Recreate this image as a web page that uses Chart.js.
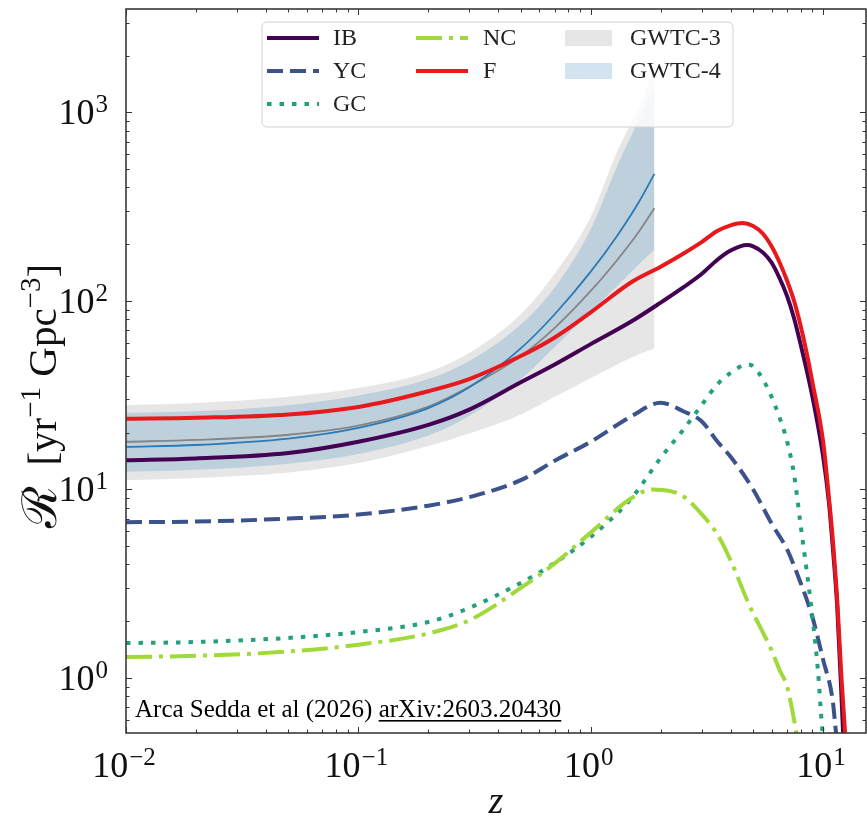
<!DOCTYPE html>
<html>
<head>
<meta charset="utf-8">
<script src="https://cdn.jsdelivr.net/npm/chart.js@4.4.1/dist/chart.umd.min.js"></script>
<style>
  body { margin: 0; background: #fff; }
  #wrap { width: 867px; height: 820px; }
</style>
</head>
<body>
<div id="wrap"><canvas id="rateChart" width="867" height="820"></canvas></div>
<script>
// Observational bands (GWTC-3 / GWTC-4), shown up to z ~ 1.9
const zObs = [0.01, 0.02, 0.05, 0.1, 0.2, 0.3, 0.5, 0.7, 1.0, 1.3, 1.6, 1.88];
const gwtc3Mid = [17.9, 18.3, 19.5, 21.8, 27.5, 35.0, 51, 72, 113, 165, 230, 310];
const gwtc3Lo = [11.2, 11.5, 12.3, 13.8, 17.0, 19.8, 25, 31, 39, 46, 52, 56];
const gwtc3Hi = [28, 28.7, 31, 34.5, 42, 53, 85, 140, 280, 620, 1050, 1700];
const gwtc4Mid = [16.8, 17.2, 18.6, 21.2, 27.0, 34.8, 56, 85, 143, 222, 330, 472];
const gwtc4Lo = [12.4, 12.7, 13.7, 15.4, 19.3, 24.5, 38.5, 57, 88, 120, 155, 187];
const gwtc4Hi = [25.5, 26, 28, 31.5, 38.5, 48, 75, 118, 240, 520, 900, 1400];

// Model channels
const zIB = [0.01, 0.02, 0.05, 0.1, 0.2, 0.3, 0.5, 0.7, 1, 1.5, 2, 2.5, 3, 3.5, 4, 4.7, 5, 5.5, 6, 6.5, 7, 7.5, 8, 9, 10, 10.6, 11, 11.5, 12, 12.3];
const rIB = [14.3, 14.6, 15.6, 17.9, 22, 26.5, 37, 46, 59, 78, 98, 118, 139, 165, 185, 198, 195, 181, 160, 132, 106, 81, 59, 31, 15, 8.5, 5, 2.4, 0.8, 0.4];

const zYC = [0.01, 0.02, 0.05, 0.1, 0.2, 0.3, 0.5, 0.7, 1, 1.5, 2, 2.5, 3, 3.5, 4, 5, 6, 7, 8, 9, 10, 11, 11.3, 11.6];
const rYC = [6.7, 6.75, 7.0, 7.35, 8.2, 9.1, 11.2, 14.2, 17.9, 24.5, 28.8, 26, 23, 18, 14.9, 10, 6.6, 4.8, 3.2, 2.1, 1.25, 0.76, 0.55, 0.4];

const zGC = [0.01, 0.02, 0.05, 0.1, 0.2, 0.3, 0.5, 0.7, 1, 1.5, 2, 2.5, 3, 3.5, 4, 4.7, 5, 5.6, 6, 6.5, 7, 7.5, 8, 8.5, 9, 9.5, 9.9, 10.2];
const rGC = [1.53, 1.55, 1.63, 1.75, 1.98, 2.35, 3.19, 4.07, 5.6, 9.0, 14.7, 20.7, 28, 36, 41.5, 46, 45, 37, 31, 24, 18, 12, 6.5, 3.7, 2.1, 1.1, 0.55, 0.4];

const zNC = [0.01, 0.02, 0.05, 0.1, 0.2, 0.3, 0.5, 0.7, 1, 1.5, 1.85, 2.2, 2.5, 3, 3.5, 4, 4.7, 5, 5.5, 6, 6.5, 7, 7.5, 7.8];
const rNC = [1.29, 1.31, 1.38, 1.5, 1.72, 2.02, 3.0, 4.05, 5.9, 9.0, 10.0, 9.8, 9.2, 7.4, 5.8, 4.2, 2.6, 2.2, 1.75, 1.4, 1.1, 0.9, 0.6, 0.45];

const zF = [0.01, 0.02, 0.05, 0.1, 0.2, 0.3, 0.5, 0.7, 1, 1.5, 2, 2.5, 3, 3.5, 4, 4.5, 5, 5.5, 6, 6.5, 7, 7.5, 8, 8.5, 9, 10, 10.6, 11, 11.5, 12, 12.6];
const rF = [23.7, 24, 25, 27.4, 33.2, 38.5, 51, 64, 87, 126, 152, 178, 205, 235, 252, 259, 250, 228, 195, 160, 128, 100, 74, 53, 37, 18, 9, 5.5, 2.6, 1.0, 0.4];

// Axis ranges and decade labels
const xRange = [0.01, 15.3];
const yRange = [0.51, 3540];
const xDecades = [-2, -1, 0, 1];
const yDecades = [0, 1, 2, 3];

const serif = '"Liberation Serif", "DejaVu Serif", serif';

function pts(zs, rs) {
    return zs.map((z, i) => ({ x: z, y: rs[i] }));
}

const datasets = [
    // 0,1: GWTC-3 band
    { label: '_g3lo', data: pts(zObs, gwtc3Lo), borderWidth: 0, fill: false, order: 20 },
    { label: 'GWTC-3', data: pts(zObs, gwtc3Hi), borderWidth: 0, fill: 0,
      backgroundColor: 'rgba(128,128,128,0.2)', order: 20 },
    // 2,3: GWTC-4 band
    { label: '_g4lo', data: pts(zObs, gwtc4Lo), borderWidth: 0, fill: false, order: 19 },
    { label: 'GWTC-4', data: pts(zObs, gwtc4Hi), borderWidth: 0, fill: 2,
      backgroundColor: 'rgba(31,119,180,0.2)', order: 19 },
    // medians
    { label: '_g3mid', data: pts(zObs, gwtc3Mid), borderColor: '#858585', borderWidth: 1.8, order: 18 },
    { label: '_g4mid', data: pts(zObs, gwtc4Mid), borderColor: '#2a7ab8', borderWidth: 1.8, order: 17 },
    // models
    { label: 'IB', data: pts(zIB, rIB), borderColor: '#440154', borderWidth: 4, order: 9 },
    { label: 'YC', data: pts(zYC, rYC), borderColor: '#3b528b', borderWidth: 4,
      borderDash: [16, 7], borderCapStyle: 'butt', order: 8 },
    { label: 'GC', data: pts(zGC, rGC), borderColor: '#22a07f', borderWidth: 4,
      borderDash: [4.5, 8], borderCapStyle: 'butt', order: 7 },
    { label: 'NC', data: pts(zNC, rNC), borderColor: '#a0d93a', borderWidth: 4,
      borderDash: [26, 7, 4, 7], borderCapStyle: 'butt', order: 6 },
    { label: 'F', data: pts(zF, rF), borderColor: '#e8191c', borderWidth: 4, order: 5 }
];

// Legend columns as matplotlib lays them out (ncol = 3)
const legendCols = [['IB', 'YC', 'GC'], ['NC', 'F'], ['GWTC-3', 'GWTC-4']];

function powLabel(ctx, exp, x, y, align) {
    const base = '10';
    const sup = exp < 0 ? '\u2212' + (-exp) : String(exp);
    ctx.font = '36px ' + serif;
    const wb = ctx.measureText(base).width;
    ctx.font = '25px ' + serif;
    const ws = ctx.measureText(sup).width;
    const x0 = align === 'right' ? x - wb - ws - 1 : x - (wb + ws + 1) / 2;
    ctx.textAlign = 'left';
    ctx.textBaseline = 'alphabetic';
    ctx.font = '36px ' + serif;
    ctx.fillText(base, x0, y);
    ctx.font = '25px ' + serif;
    ctx.fillText(sup, x0 + wb + 1, y - 12);
}

function drawRich(ctx, pieces) {
    // pieces: [text, font, raise]
    let total = 0;
    pieces.forEach(p => { ctx.font = p[1]; p.w = ctx.measureText(p[0]).width; total += p.w; });
    let cx = -total / 2;
    pieces.forEach(p => {
        ctx.font = p[1];
        ctx.fillText(p[0], cx, -p[2]);
        cx += p.w;
    });
}

const framePlugin = {
    id: 'frame',
    afterDraw(chart) {
        const { ctx, chartArea: a, scales: { x, y } } = chart;
        ctx.save();
        ctx.fillStyle = '#111';

        // tick marks, inside, on all four sides
        ctx.strokeStyle = '#333';
        ctx.lineWidth = 1;
        const seg = (x1, y1, x2, y2) => { ctx.beginPath(); ctx.moveTo(x1, y1); ctx.lineTo(x2, y2); ctx.stroke(); };
        for (let e = -3; e <= 2; e++) {
            for (let m = 1; m < 10; m++) {
                const v = m * Math.pow(10, e);
                const len = m === 1 ? 6 : 3.5;
                if (v >= xRange[0] * 0.999 && v <= xRange[1]) {
                    const px = Math.round(x.getPixelForValue(v)) + 0.5;
                    seg(px, a.bottom, px, a.bottom - len);
                    seg(px, a.top, px, a.top + len);
                }
            }
        }
        for (let e = -1; e <= 4; e++) {
            for (let m = 1; m < 10; m++) {
                const v = m * Math.pow(10, e);
                const len = m === 1 ? 6 : 3.5;
                if (v >= yRange[0] && v <= yRange[1]) {
                    const py = Math.round(y.getPixelForValue(v)) + 0.5;
                    seg(a.left, py, a.left + len, py);
                    seg(a.right, py, a.right - len, py);
                }
            }
        }

        // frame
        ctx.strokeStyle = '#3a3a3a';
        ctx.lineWidth = 1.6;
        ctx.strokeRect(a.left, a.top, a.right - a.left, a.bottom - a.top);

        // tick labels
        xDecades.forEach(e => powLabel(ctx, e, x.getPixelForValue(Math.pow(10, e)) - 2, a.bottom + 44, 'center'));
        yDecades.forEach(e => powLabel(ctx, e, a.left - 18, y.getPixelForValue(Math.pow(10, e)) + 12, 'right'));

        // axis titles
        ctx.font = 'italic 38px ' + serif;
        ctx.textAlign = 'center';
        ctx.fillText('z', (a.left + a.right) / 2, a.bottom + 80);

        ctx.save();
        ctx.translate(56, 396);
        ctx.rotate(-Math.PI / 2);
        ctx.textAlign = 'left';
        drawRich(ctx, [
            ['\u211B', '48px "DejaVu Serif", serif', 0],
            ['  [yr', '41px ' + serif, 0],
            ['\u22121', '29px ' + serif, 16],
            [' Gpc', '41px ' + serif, 0],
            ['\u22123', '29px ' + serif, 16],
            [']', '41px ' + serif, 0]
        ]);
        ctx.restore();

        // credit line
        ctx.font = '25px ' + serif;
        ctx.textAlign = 'left';
        const t1 = 'Arca Sedda et al (2026) ';
        const t2 = 'arXiv:2603.20430';
        const w1 = ctx.measureText(t1).width;
        const w2 = ctx.measureText(t2).width;
        ctx.fillStyle = '#000';
        ctx.fillText(t1, a.left + 9, a.bottom - 16);
        ctx.fillText(t2, a.left + 9 + w1, a.bottom - 16);
        ctx.fillRect(a.left + 9 + w1, a.bottom - 13, w2, 1.6);

        // legend
        const bx = 262, by = 22, bw = 471, bh = 105, r = 5;
        ctx.beginPath();
        ctx.roundRect(bx, by, bw, bh, r);
        ctx.fillStyle = 'rgba(255,255,255,0.85)';
        ctx.fill();
        ctx.strokeStyle = '#d2d2d2';
        ctx.lineWidth = 1;
        ctx.stroke();

        const colX = [267, 416, 565];
        const textX = [333, 483, 630];
        const rowY = [38, 71, 104];
        ctx.font = '24px ' + serif;
        ctx.textBaseline = 'middle';
        legendCols.forEach((col, ci) => {
            col.forEach((name, ri) => {
                const ds = chart.data.datasets.find(d => d.label === name);
                const yy = rowY[ri];
                if (ds.fill !== false && ds.borderWidth === 0) {
                    ctx.fillStyle = ds.backgroundColor;
                    ctx.fillRect(colX[ci], yy - 8, 47, 16);
                } else {
                    ctx.strokeStyle = ds.borderColor;
                    ctx.lineWidth = ds.borderWidth;
                    ctx.setLineDash(ds.borderDash || []);
                    ctx.lineCap = 'butt';
                    seg(colX[ci], yy, colX[ci] + 52, yy);
                    ctx.setLineDash([]);
                }
                ctx.fillStyle = '#222';
                ctx.fillText(name, textX[ci], yy + 1);
            });
        });
        ctx.restore();
    }
};

new Chart(document.getElementById('rateChart').getContext('2d'), {
    type: 'line',
    data: { datasets },
    options: {
        responsive: false,
        animation: false,
        parsing: true,
        layout: { padding: { left: 126, right: 1, top: 9, bottom: 87 } },
        scales: {
            x: { type: 'logarithmic', min: xRange[0], max: xRange[1], display: false },
            y: { type: 'logarithmic', min: yRange[0], max: yRange[1], display: false }
        },
        elements: {
            point: { radius: 0 },
            line: { cubicInterpolationMode: 'monotone' }
        },
        plugins: {
            legend: { display: false },
            tooltip: { enabled: false },
            filler: { propagate: false }
        }
    },
    plugins: [framePlugin]
});
</script>
</body>
</html>
